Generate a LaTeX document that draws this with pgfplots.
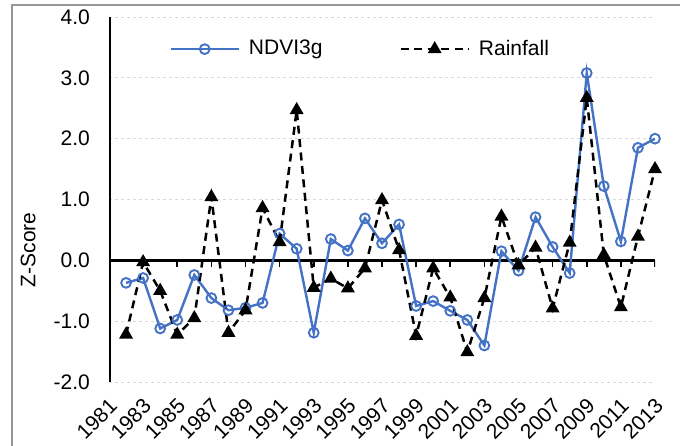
\documentclass[border=0pt]{standalone}
\usepackage{fontspec}
\setmainfont{Liberation Sans}
\usepackage{pgfplots}
\pgfplotsset{compat=1.18}
\definecolor{ndvi}{RGB}{68,114,196}
\definecolor{gridc}{RGB}{217,217,217}
\definecolor{bord}{RGB}{150,150,150}
\begin{document}
\fontsize{21}{25}\selectfont
\begin{tikzpicture}[x=1pt,y=1pt]
\path[use as bounding box] (0,0) rectangle (680,445);
\draw[bord, line width=1.2pt] (12,-10) -- (12,440) -- (700,440);
\begin{axis}[
 at={(109pt,63pt)}, anchor=south west,
 scale only axis, width=546pt, height=365pt,
 xmin=1981, xmax=2013, ymin=-2, ymax=4,
 axis line style={draw=none},
 major tick length=0pt,
 xtick={1981,1983,...,2013},
 ytick={-2,-1,...,4},
 ymajorgrids, grid style={gridc, dashed, line width=0.75pt},
 /pgf/number format/assume math mode=true,
 tick label style={font=\fontsize{21}{25}\selectfont, black},
 x tick label style={yshift=-15pt, xshift=-1pt, rotate=45, anchor=north east, inner sep=0pt, /pgf/number format/1000 sep={}},
 y tick label style={anchor=east, inner sep=0pt, xshift=-19pt, /pgf/number format/.cd, fixed, fixed zerofill, precision=1},
 ylabel={Z-Score},
 ylabel style={at={(axis description cs:-0.148,0.362)}, anchor=center, font=\fontsize{21}{25}\selectfont},
 legend columns=2,
 legend style={draw=none, fill=none, at={(0.105,0.912)}, anchor=west, font=\fontsize{21}{25}\selectfont,
   /tikz/every odd column/.append style={column sep=7pt},
   /tikz/every even column/.append style={column sep=75pt}},
 legend image code/.code={\draw[mark repeat=2,mark phase=2,#1] plot coordinates {(0pt,0pt) (34pt,0pt) (68pt,0pt)};},
]
\draw[black, line width=2.5pt] (axis cs:1981,0) -- (axis cs:2013,0);
\draw[black, line width=3pt] (axis cs:1981,-2) -- (axis cs:1981,4);
\pgfplotsinvokeforeach{1981,1983,1985,1987,1989,1991,1993,1995,1997,1999,2001,2003,2005,2007,2009,2011,2013}{\draw[black,line width=1.6pt] (axis cs:#1,0) -- ([yshift=-6.5pt]axis cs:#1,0);}
\addplot[ndvi, line width=2.4pt, mark=o, mark size=4.9pt, mark options={solid, fill=white, line width=1.9pt}] coordinates {
(1982,-0.37) (1983,-0.29) (1984,-1.12) (1985,-0.98) (1986,-0.24) (1987,-0.62) (1988,-0.82) (1989,-0.78)
(1990,-0.70) (1991,0.44) (1992,0.19) (1993,-1.19) (1994,0.35) (1995,0.16) (1996,0.69) (1997,0.28)
(1998,0.59) (1999,-0.75) (2000,-0.67) (2001,-0.83) (2002,-0.98) (2003,-1.40) (2004,0.15) (2005,-0.17)
(2006,0.71) (2007,0.22) (2008,-0.21) (2009,3.08) (2010,1.22) (2011,0.31) (2012,1.85) (2013,2.00)
};
\addlegendentry{NDVI3g}
\addplot[black, line width=2.5pt, dash pattern=on 8pt off 5.5pt, mark=triangle*, mark size=5.6pt, mark options={solid}] coordinates {
(1982,-1.22) (1983,-0.03) (1984,-0.50) (1985,-1.22) (1986,-0.95) (1987,1.04) (1988,-1.19) (1989,-0.82)
(1990,0.86) (1991,0.30) (1992,2.47) (1993,-0.45) (1994,-0.30) (1995,-0.46) (1996,-0.13) (1997,0.99)
(1998,0.17) (1999,-1.24) (2000,-0.13) (2001,-0.61) (2002,-1.51) (2003,-0.62) (2004,0.72) (2005,-0.08)
(2006,0.21) (2007,-0.79) (2008,0.29) (2009,2.67) (2010,0.09) (2011,-0.77) (2012,0.39) (2013,1.50)
};
\addlegendentry{Rainfall}
\end{axis}
\end{tikzpicture}
\end{document}
